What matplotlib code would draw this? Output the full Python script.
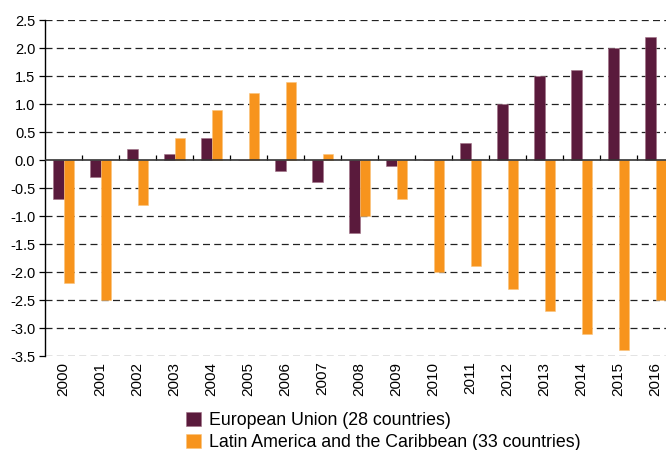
import matplotlib
matplotlib.use("Agg")
import matplotlib.pyplot as plt
import numpy as np

years = [str(y) for y in range(2000, 2017)]
eu = [-0.7, -0.3, 0.2, 0.1, 0.4, 0.0, -0.2, -0.4, -1.3, -0.1, 0.0, 0.3, 1.0, 1.5, 1.6, 2.0, 2.2]
lac = [-2.2, -2.5, -0.8, 0.4, 0.9, 1.2, 1.4, 0.1, -1.0, -0.7, -2.0, -1.9, -2.3, -2.7, -3.1, -3.4, -2.5]
labels = ["European Union (28 countries)", "Latin America and the Caribbean (33 countries)"]
yticks = [2.5, 2.0, 1.5, 1.0, 0.5, 0.0, -0.5, -1.0, -1.5, -2.0, -2.5, -3.0, -3.5]

plt.rcParams['font.family'] = ['Liberation Sans', 'DejaVu Sans']

fig = plt.figure(figsize=(6.66, 4.5), dpi=100)
ax = fig.add_axes([45/666, 1-356/450, (666-45)/666, (356-20)/450])

x = np.arange(len(years))
w = 0.28
ax.bar(x - w/2, eu, width=w, color='#5a1a3c', edgecolor='#a07085', linewidth=0.4, label=labels[0], zorder=3)
ax.bar(x + w/2, lac, width=w, color='#f7941d', edgecolor='#fbc27a', linewidth=0.4, label=labels[1], zorder=3)

ax.set_ylim(-3.5, 2.5)
ax.set_xlim(-0.5, 16.28)
ax.set_yticks(yticks)
ax.set_yticklabels([f"{v:.1f}" for v in yticks], fontsize=10.5)
for v in yticks:
    if v != 0:
        ax.axhline(v, color='#222222', linestyle=(0, (5.6, 3.4)), linewidth=0.9, zorder=1)
ax.axhline(0, color='#333333', linewidth=1.2, zorder=4)

ax.set_xticks(x)
ax.set_xticklabels(years, rotation=90, fontsize=11)
ax.tick_params(axis='x', length=0, pad=4)
ax.tick_params(axis='y', length=4, width=0.9, direction='out', color='black', pad=3)

for s in ['top', 'right', 'bottom']:
    ax.spines[s].set_visible(False)
ax.spines['left'].set_linewidth(1.0)
ax.spines['left'].set_color('black')

sec = ax.secondary_xaxis(3.5/6)
sec.set_xticks(np.arange(0.5, 16.5, 1.0))
sec.set_xticklabels([])
sec.tick_params(length=3.5, width=0.9, direction='out', color='black')
sec.spines['bottom'].set_visible(False)
sec.spines['top'].set_visible(False)

fig.legend(loc='upper left', bbox_to_anchor=(186/666, 1-412/450), frameon=False,
           fontsize=12.8, handlelength=0.85, handleheight=0.85, handletextpad=0.45,
           labelspacing=0.25, borderpad=0, borderaxespad=0)

fig.savefig('out.png', dpi=100)
